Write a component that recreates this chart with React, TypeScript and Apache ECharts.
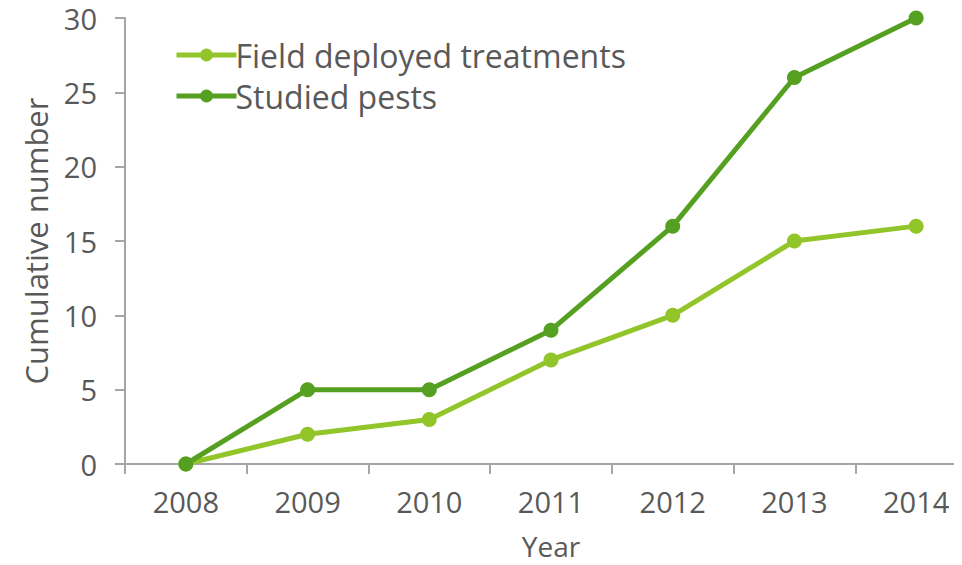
import React, { useEffect, useRef } from "react";
import * as echarts from "echarts";

const years = ["2008", "2009", "2010", "2011", "2012", "2013", "2014"];
const fieldDeployed = [0, 2, 3, 7, 10, 15, 16];
const studiedPests = [0, 5, 5, 9, 16, 26, 30];
const seriesNames = ["Field deployed treatments", "Studied pests"];
const colors = ["#92C52A", "#55A021"];

const FONT = "Open Sans";
const TXT = "#595959";
const AX = "#A6A6A6";

export default function App() {
  const ref = useRef<HTMLDivElement>(null);
  useEffect(() => {
    const chart = echarts.init(ref.current!, null, { renderer: "svg" });
    chart.setOption({
      animation: false,
      color: colors,
      textStyle: { fontFamily: FONT },
      legend: {
        left: 169,
        top: 34,
        orient: "vertical",
        itemWidth: 60,
        itemHeight: 16,
        itemGap: 9,
        lineStyle: { width: 5 },
        textStyle: { fontSize: 32, lineHeight: 32, color: TXT, fontFamily: FONT, padding: [0, 0, 0, -6] },
        data: seriesNames,
      },
      grid: { left: 125, right: 0, top: 18, bottom: 101, outerBoundsMode: "none", containLabel: false },
      xAxis: {
        type: "category",
        data: years,
        boundaryGap: true,
        name: "Year",
        nameLocation: "middle",
        nameGap: 68,
        nameTextStyle: { fontSize: 28, lineHeight: 28, color: TXT, fontFamily: FONT },
        axisLine: { lineStyle: { color: AX, width: 2 } },
        axisTick: { show: true, length: 10, lineStyle: { color: AX, width: 2 } },
        axisLabel: { fontSize: 29, color: TXT, margin: 23, fontFamily: FONT },
      },
      yAxis: {
        type: "value",
        min: 0,
        max: 30,
        interval: 5,
        name: "Cumulative number",
        nameLocation: "middle",
        nameGap: 74,
        nameTextStyle: { fontSize: 31, lineHeight: 31, color: TXT, fontFamily: FONT },
        axisLine: { show: true, lineStyle: { color: AX, width: 2 } },
        axisTick: { show: true, length: 10, lineStyle: { color: AX, width: 2 } },
        splitLine: { show: false },
        axisLabel: { fontSize: 29, color: TXT, margin: 28, fontFamily: FONT },
      },
      series: [
        {
          name: seriesNames[0],
          type: "line",
          data: fieldDeployed,
          symbol: "circle",
          symbolSize: 15,
          lineStyle: { width: 5, color: colors[0] },
          itemStyle: { color: colors[0] },
        },
        {
          name: seriesNames[1],
          type: "line",
          data: studiedPests,
          symbol: "circle",
          symbolSize: 15,
          lineStyle: { width: 5, color: colors[1] },
          itemStyle: { color: colors[1] },
        },
      ],
    });
    return () => chart.dispose();
  }, []);
  return (
    <div style={{ width: 962, height: 565, margin: -8, overflow: "hidden" }}>
      <div ref={ref} style={{ width: 977, height: 565 }} />
    </div>
  );
}
